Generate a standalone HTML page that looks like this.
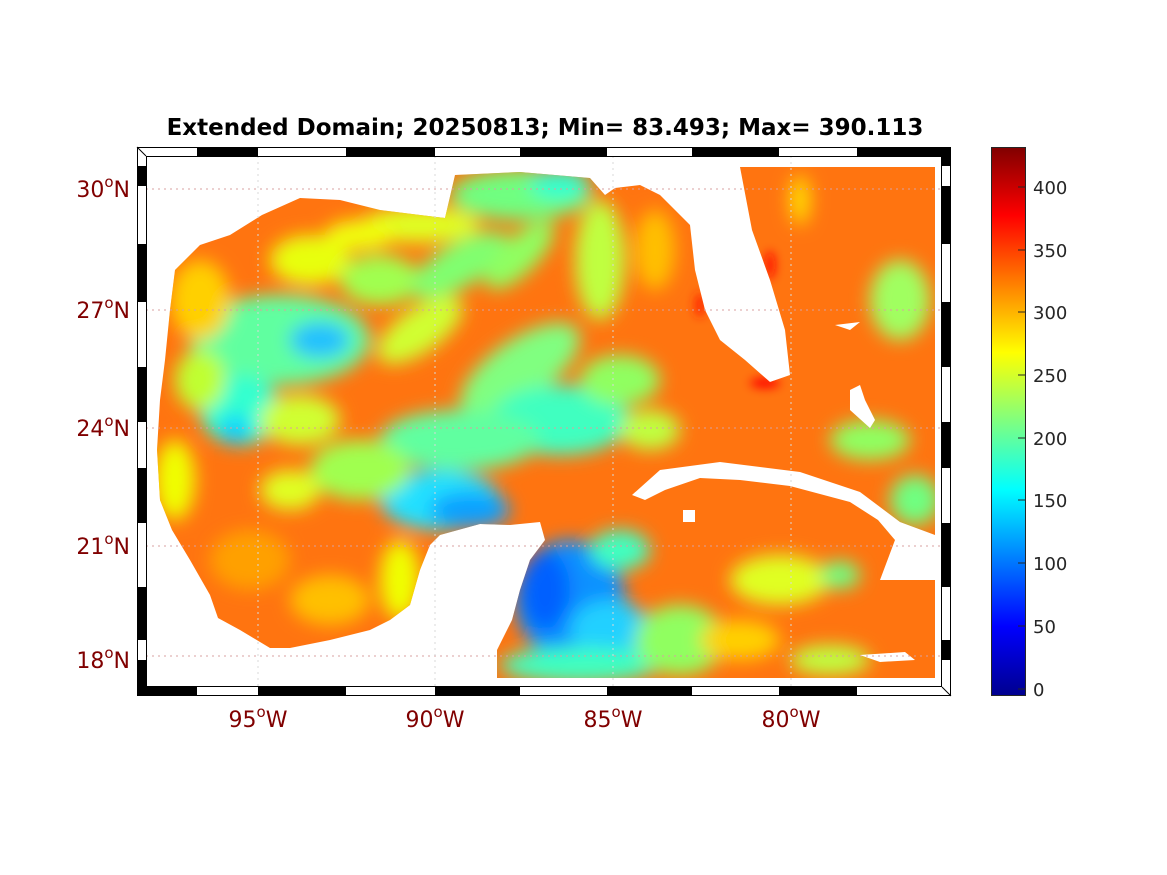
<!DOCTYPE html>
<html><head><meta charset="utf-8"><style>
body{margin:0;background:#fff;}
svg{display:block;font-family:"DejaVu Sans","Liberation Sans",sans-serif;}
</style></head><body>
<svg width="1167" height="875" viewBox="0 0 1167 875" xmlns="http://www.w3.org/2000/svg">
<defs>
<clipPath id="oc">
<path d="M262,215 L300,198 L340,200 L380,210 L420,215 L445,218 L455,175 L520,172 L590,178 L605,195 L615,188 L640,185 L660,195 L690,225 L695,270 L705,310 L720,340 L745,360 L770,382 L790,375 L785,330 L770,280 L752,230 L740,167 L935,167 L935,535 L900,522 L860,492 L800,472 L720,462 L660,470 L632,495 L645,500 L665,490 L700,478 L740,480 L790,486 L850,502 L878,520 L895,540 L880,580 L935,580 L935,678 L497,678 L497,650 L512,620 L520,590 L530,560 L545,540 L540,522 L510,525 L480,524 L440,535 L430,545 L420,570 L410,605 L390,620 L370,630 L330,640 L290,648 L270,648 L240,630 L218,618 L210,595 L190,560 L172,530 L160,500 L157,450 L160,400 L165,360 L170,310 L175,270 L200,245 L230,235 Z"/>
</clipPath>
<filter id="bl" x="-50%" y="-50%" width="200%" height="200%"><feGaussianBlur stdDeviation="9"/></filter>
<filter id="bl2" x="-50%" y="-50%" width="200%" height="200%"><feGaussianBlur stdDeviation="5"/></filter>
<linearGradient id="jet" x1="0" y1="1" x2="0" y2="0">
<stop offset="0" stop-color="#00008f"/><stop offset="0.125" stop-color="#0000ff"/>
<stop offset="0.375" stop-color="#00ffff"/><stop offset="0.625" stop-color="#ffff00"/>
<stop offset="0.875" stop-color="#ff0000"/><stop offset="1" stop-color="#800000"/>
</linearGradient>
</defs>
<text x="545" y="135" font-size="23" font-weight="bold" text-anchor="middle" fill="#000">Extended Domain; 20250813; Min= 83.493; Max= 390.113</text>

<g clip-path="url(#oc)">
<rect x="150" y="160" width="800" height="530" fill="#ff7410"/>
<g filter="url(#bl)">
<ellipse cx="520" cy="195" rx="70" ry="25" fill="#70ff80"/>
<ellipse cx="560" cy="185" rx="30" ry="15" fill="#30ffd0"/>
<ellipse cx="420" cy="225" rx="60" ry="18" fill="#e0ff20"/>
<ellipse cx="600" cy="260" rx="25" ry="60" fill="#c0ff40"/>
<ellipse cx="655" cy="250" rx="20" ry="40" fill="#ffc000"/>
<ellipse cx="280" cy="340" rx="90" ry="45" fill="#60ffa0"/>
<ellipse cx="320" cy="340" rx="30" ry="18" fill="#20c0ff"/>
<ellipse cx="240" cy="410" rx="40" ry="35" fill="#30ffd0"/>
<ellipse cx="235" cy="430" rx="15" ry="15" fill="#10d0ff"/>
<ellipse cx="200" cy="300" rx="30" ry="40" fill="#ffd000"/>
<ellipse cx="200" cy="380" rx="25" ry="30" fill="#c0ff30"/>
<ellipse cx="175" cy="480" rx="20" ry="40" fill="#f0ff00"/>
<ellipse cx="310" cy="260" rx="40" ry="25" fill="#e8ff10"/>
<ellipse cx="380" cy="280" rx="40" ry="25" fill="#a0ff50"/>
<ellipse cx="360" cy="235" rx="35" ry="15" fill="#f0ff10"/>
<ellipse cx="460" cy="265" rx="55" ry="22" fill="#80ff70" transform="rotate(-30 460 265)"/>
<ellipse cx="520" cy="255" rx="45" ry="18" fill="#90ff60" transform="rotate(-45 520 255)"/>
<ellipse cx="420" cy="330" rx="50" ry="22" fill="#d0ff30" transform="rotate(-35 420 330)"/>
<ellipse cx="520" cy="370" rx="70" ry="30" fill="#80ff80" transform="rotate(-35 520 370)"/>
<ellipse cx="560" cy="420" rx="70" ry="35" fill="#40ffc0"/>
<ellipse cx="460" cy="440" rx="80" ry="30" fill="#60ffa0"/>
<ellipse cx="440" cy="500" rx="60" ry="30" fill="#20e0ff"/>
<ellipse cx="470" cy="510" rx="40" ry="18" fill="#10a0ff"/>
<ellipse cx="360" cy="470" rx="50" ry="30" fill="#a0ff50"/>
<ellipse cx="300" cy="420" rx="40" ry="25" fill="#d0ff30"/>
<ellipse cx="290" cy="490" rx="30" ry="20" fill="#e0ff20"/>
<ellipse cx="620" cy="380" rx="40" ry="25" fill="#90ff60"/>
<ellipse cx="650" cy="430" rx="30" ry="20" fill="#c0ff40"/>
<ellipse cx="570" cy="600" rx="55" ry="60" fill="#1090ff"/>
<ellipse cx="545" cy="590" rx="25" ry="40" fill="#0060ff"/>
<ellipse cx="610" cy="630" rx="40" ry="30" fill="#20d0ff"/>
<ellipse cx="580" cy="665" rx="80" ry="18" fill="#40ffc0"/>
<ellipse cx="680" cy="640" rx="45" ry="35" fill="#90ff60"/>
<ellipse cx="620" cy="550" rx="30" ry="20" fill="#40ffc0"/>
<ellipse cx="780" cy="580" rx="50" ry="25" fill="#e0ff20"/>
<ellipse cx="840" cy="575" rx="20" ry="14" fill="#70ff80"/>
<ellipse cx="740" cy="640" rx="40" ry="20" fill="#ffd000"/>
<ellipse cx="830" cy="660" rx="40" ry="15" fill="#c0ff40"/>
<ellipse cx="900" cy="300" rx="30" ry="40" fill="#a0ff60"/>
<ellipse cx="870" cy="440" rx="40" ry="20" fill="#90ff60"/>
<ellipse cx="915" cy="500" rx="25" ry="25" fill="#70ff80"/>
<ellipse cx="800" cy="200" rx="10" ry="25" fill="#ffe000"/>
<ellipse cx="250" cy="560" rx="40" ry="30" fill="#ffa000"/>
<ellipse cx="330" cy="600" rx="40" ry="25" fill="#ffc000"/>
<ellipse cx="400" cy="580" rx="20" ry="40" fill="#f0ff00"/>
</g>
<g filter="url(#bl2)">
<ellipse cx="770" cy="265" rx="5" ry="14" fill="#ff1000"/>
<ellipse cx="765" cy="383" rx="15" ry="5" fill="#ff0000"/>
<ellipse cx="700" cy="305" rx="5" ry="12" fill="#ff2000"/>
</g>
<path d="M835,325 L860,322 L850,330 Z" fill="#fff"/>
<path d="M850,390 L860,385 L865,400 L875,420 L870,428 L850,410 Z" fill="#fff"/>
<path d="M860,655 L905,652 L915,660 L880,662 Z" fill="#fff"/>
<rect x="683" y="510" width="12" height="12" fill="#fff"/>
</g>

<g stroke="#d9a0a0" stroke-width="1" stroke-dasharray="2,4" fill="none">
<line x1="146" y1="189" x2="942" y2="189"/><line x1="146" y1="310" x2="942" y2="310"/>
<line x1="146" y1="428" x2="942" y2="428"/><line x1="146" y1="546" x2="942" y2="546"/>
<line x1="146" y1="656" x2="942" y2="656"/>
</g>
<g stroke="#d8d8d8" stroke-width="1" stroke-dasharray="2,4">
<line x1="258" y1="156" x2="258" y2="687"/><line x1="435" y1="156" x2="435" y2="687"/>
<line x1="613" y1="156" x2="613" y2="687"/><line x1="791" y1="156" x2="791" y2="687"/>
</g>

<rect x="137.5" y="147.5" width="813" height="548" fill="none" stroke="#000" stroke-width="1"/>
<rect x="146.5" y="156.5" width="795" height="530" fill="none" stroke="#000" stroke-width="1"/>
<g fill="#000">
<rect x="197" y="148" width="61" height="8"/><rect x="346" y="148" width="89" height="8"/>
<rect x="520" y="148" width="87" height="8"/><rect x="692" y="148" width="87" height="8"/>
<rect x="857" y="148" width="85" height="8"/>
<rect x="146" y="687" width="51" height="8"/><rect x="258" y="687" width="88" height="8"/>
<rect x="435" y="687" width="85" height="8"/><rect x="607" y="687" width="85" height="8"/>
<rect x="779" y="687" width="78" height="8"/>
<rect x="138" y="166" width="8" height="20"/><rect x="138" y="244" width="8" height="58"/>
<rect x="138" y="367" width="8" height="55"/><rect x="138" y="468" width="8" height="55"/>
<rect x="138" y="587" width="8" height="53"/><rect x="138" y="660" width="8" height="36"/>
<rect x="942" y="148" width="9" height="18"/><rect x="942" y="186" width="9" height="58"/>
<rect x="942" y="302" width="9" height="65"/><rect x="942" y="422" width="9" height="46"/>
<rect x="942" y="523" width="9" height="64"/><rect x="942" y="640" width="9" height="20"/>
</g>
<line x1="137" y1="147" x2="146" y2="156" stroke="#000"/>
<line x1="942" y1="687" x2="951" y2="696" stroke="#000"/>

<g fill="#800000" font-size="22" text-anchor="end">
<text x="130" y="197">30<tspan font-size="15" dy="-10">o</tspan><tspan dy="10">N</tspan></text>
<text x="130" y="318">27<tspan font-size="15" dy="-10">o</tspan><tspan dy="10">N</tspan></text>
<text x="130" y="436">24<tspan font-size="15" dy="-10">o</tspan><tspan dy="10">N</tspan></text>
<text x="130" y="554">21<tspan font-size="15" dy="-10">o</tspan><tspan dy="10">N</tspan></text>
<text x="130" y="668">18<tspan font-size="15" dy="-10">o</tspan><tspan dy="10">N</tspan></text>
</g>
<g fill="#800000" font-size="22" text-anchor="middle">
<text x="258" y="727">95<tspan font-size="15" dy="-10">o</tspan><tspan dy="10">W</tspan></text>
<text x="435" y="727">90<tspan font-size="15" dy="-10">o</tspan><tspan dy="10">W</tspan></text>
<text x="613" y="727">85<tspan font-size="15" dy="-10">o</tspan><tspan dy="10">W</tspan></text>
<text x="791" y="727">80<tspan font-size="15" dy="-10">o</tspan><tspan dy="10">W</tspan></text>
</g>

<rect x="991" y="147" width="34" height="548" fill="url(#jet)"/>
<rect x="991.5" y="147.5" width="34" height="548" fill="none" stroke="#262626" stroke-width="1"/>
<g stroke="#262626">
<line x1="1018" y1="689" x2="1025" y2="689"/><line x1="1018" y1="626" x2="1025" y2="626"/>
<line x1="1018" y1="563" x2="1025" y2="563"/><line x1="1018" y1="500" x2="1025" y2="500"/>
<line x1="1018" y1="438" x2="1025" y2="438"/><line x1="1018" y1="375" x2="1025" y2="375"/>
<line x1="1018" y1="312" x2="1025" y2="312"/><line x1="1018" y1="250" x2="1025" y2="250"/>
<line x1="1018" y1="187" x2="1025" y2="187"/>
</g>
<g fill="#262626" font-size="18">
<text x="1033" y="696">0</text><text x="1033" y="633">50</text>
<text x="1033" y="570">100</text><text x="1033" y="507">150</text>
<text x="1033" y="445">200</text><text x="1033" y="382">250</text>
<text x="1033" y="319">300</text><text x="1033" y="257">350</text>
<text x="1033" y="194">400</text>
</g>
</svg>
</body></html>
